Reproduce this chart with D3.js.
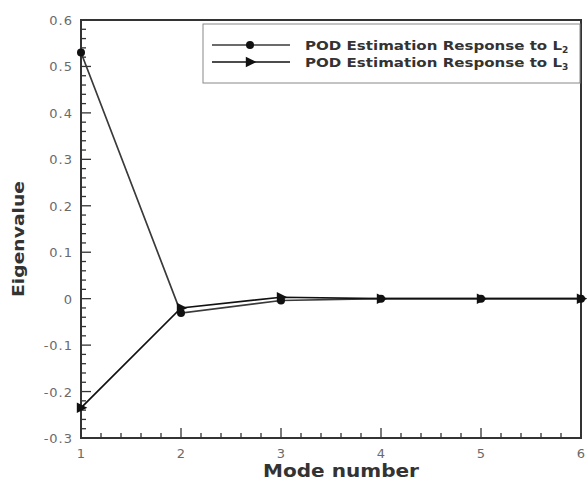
<!DOCTYPE html>
<html>
<head>
<meta charset="utf-8">
<script src="https://cdn.jsdelivr.net/npm/d3@7"></script>
<style>
  html, body { margin: 0; padding: 0; background: #fff; }
  svg { display: block; font-family: "DejaVu Sans", Verdana, sans-serif; }
</style>
</head>
<body>
<svg id="chart" width="587" height="482"></svg>
<script>
// Eigenvalues of the POD modes for the two responses
const modes = [1, 2, 3, 4, 5, 6];
const responseL2 = [0.53, -0.031, -0.004, 0, 0, 0];
const responseL3 = [-0.235, -0.02, 0.003, 0, 0, 0];
const seriesNames = ["POD Estimation Response to L", "POD Estimation Response to L"];
const seriesSubs = ["2", "3"];
const xTicks = [1, 2, 3, 4, 5, 6];
const yTicks = [-0.3, -0.2, -0.1, 0, 0.1, 0.2, 0.3, 0.4, 0.5, 0.6];
const yTickLabels = ["-0.3", "-0.2", "-0.1", "0", "0.1", "0.2", "0.3", "0.4", "0.5", "0.6"];

const svg = d3.select("#chart");
const m = { left: 81, right: 581, top: 20, bottom: 438 };

const x = d3.scaleLinear().domain([1, 6]).range([m.left, m.right]);
const y = d3.scaleLinear().domain([-0.3, 0.6]).range([m.bottom, m.top]);

// Minor tick positions between the labelled ones
const xMinor = d3.range(1, 6.001, 0.2).filter(v => Math.abs(v - Math.round(v)) > 1e-6);
const yMinor = d3.range(-0.3, 0.6001, 0.02).filter(v => Math.abs(v * 10 - Math.round(v * 10)) > 1e-6);

const ticks = svg.append("g").attr("stroke", "#333").attr("stroke-width", 1.3);
// x ticks, pointing up into the frame
ticks.selectAll(".xmaj").data(xTicks).join("line")
  .attr("x1", d => x(d)).attr("x2", d => x(d))
  .attr("y1", m.bottom).attr("y2", m.bottom - 10);
ticks.selectAll(".xmin").data(xMinor).join("line")
  .attr("x1", d => x(d)).attr("x2", d => x(d))
  .attr("y1", m.bottom).attr("y2", m.bottom - 5);
// y ticks, pointing right into the frame
ticks.selectAll(".ymaj").data(yTicks).join("line")
  .attr("x1", m.left).attr("x2", m.left + 10)
  .attr("y1", d => y(d)).attr("y2", d => y(d));
ticks.selectAll(".ymin").data(yMinor).join("line")
  .attr("x1", m.left).attr("x2", m.left + 5)
  .attr("y1", d => y(d)).attr("y2", d => y(d));

// Tick labels
svg.append("g").selectAll("text").data(xTicks).join("text")
  .attr("x", d => x(d)).attr("y", 458)
  .attr("text-anchor", "middle").attr("font-size", 13).attr("fill", "#6a6a6a")
  .text(d => d);
svg.append("g").selectAll("text").data(yTicks).join("text")
  .attr("x", 73).attr("y", d => y(d) + 5)
  .attr("text-anchor", "end").attr("font-size", 13).attr("fill", "#6a6a6a")
  .attr("letter-spacing", 1)
  .text((d, i) => yTickLabels[i]);

// Frame
svg.append("rect")
  .attr("x", m.left).attr("y", m.top)
  .attr("width", m.right - m.left).attr("height", m.bottom - m.top)
  .attr("fill", "none").attr("stroke", "#333").attr("stroke-width", 2);

// Axis titles
svg.append("text")
  .attr("x", 341).attr("y", 477)
  .attr("text-anchor", "middle").attr("font-size", 17).attr("font-weight", "bold")
  .attr("fill", "#333").attr("textLength", 156).attr("lengthAdjust", "spacingAndGlyphs")
  .text("Mode number");
svg.append("text")
  .attr("transform", `translate(24,239) rotate(-90)`)
  .attr("text-anchor", "middle").attr("font-size", 16).attr("font-weight", "bold")
  .attr("fill", "#333").attr("textLength", 116).attr("lengthAdjust", "spacingAndGlyphs")
  .text("Eigenvalue");

// Lines
const line = d3.line().x((d, i) => x(modes[i])).y(d => y(d));
const colors = ["#3a3a3a", "#111"];
[responseL2, responseL3].forEach((vals, k) => {
  svg.append("path").datum(vals).attr("d", line)
    .attr("fill", "none").attr("stroke", colors[k]).attr("stroke-width", 1.7);
});

// Markers
const triangle = (cx, cy, s) => `M${cx - s * 0.6},${cy - s * 0.75}L${cx + s * 0.9},${cy}L${cx - s * 0.6},${cy + s * 0.75}Z`;
svg.append("g").selectAll("circle").data(responseL2).join("circle")
  .attr("cx", (d, i) => x(modes[i])).attr("cy", d => y(d)).attr("r", 4)
  .attr("fill", "#111");
svg.append("g").selectAll("path").data(responseL3).join("path")
  .attr("d", (d, i) => triangle(x(modes[i]), y(d), 7))
  .attr("fill", "#111");

// Legend
const lg = svg.append("g");
lg.append("rect").attr("x", 203).attr("y", 24).attr("width", 377).attr("height", 59)
  .attr("fill", "#fff").attr("stroke", "#888").attr("stroke-width", 1);
const rows = [45, 62];
rows.forEach((ry, k) => {
  lg.append("line").attr("x1", 212).attr("x2", 290).attr("y1", ry).attr("y2", ry)
    .attr("stroke", colors[k]).attr("stroke-width", 1.7);
  if (k === 0) {
    lg.append("circle").attr("cx", 250).attr("cy", ry).attr("r", 4).attr("fill", "#111");
  } else {
    lg.append("path").attr("d", triangle(250, ry, 7)).attr("fill", "#111");
  }
  const t = lg.append("text").attr("x", 305).attr("y", ry + 5)
    .attr("font-size", 13).attr("font-weight", "bold").attr("fill", "#333");
  t.append("tspan").attr("textLength", 257).attr("lengthAdjust", "spacingAndGlyphs")
    .text(seriesNames[k]);
  t.append("tspan").attr("font-size", 9).attr("dy", 3).text(seriesSubs[k]);
});
</script>
</body>
</html>
